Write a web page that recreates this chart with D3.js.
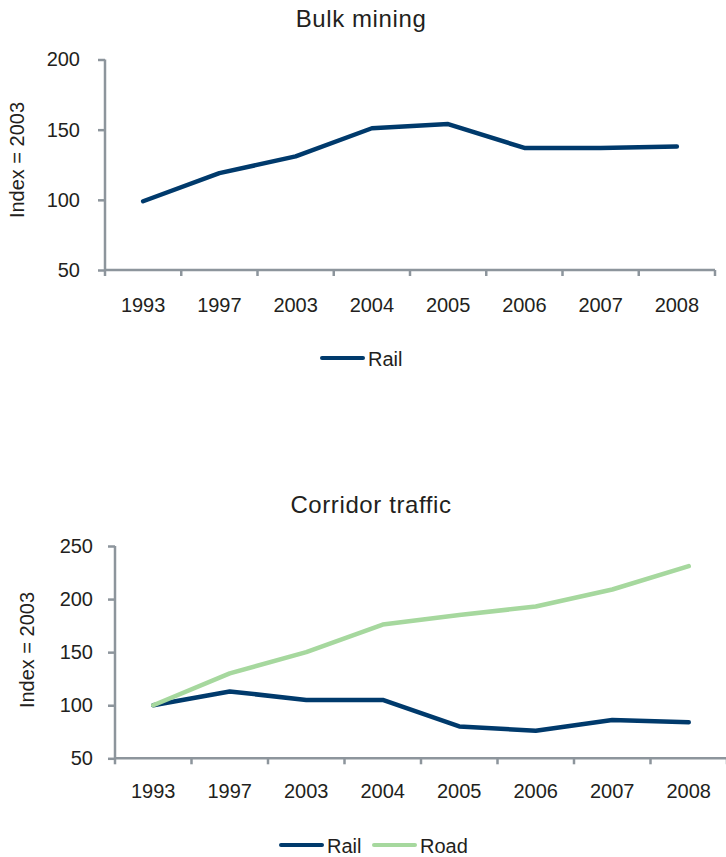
<!DOCTYPE html>
<html>
<head>
<meta charset="utf-8">
<script src="https://cdn.jsdelivr.net/npm/d3@7"></script>
<style>
  body { margin: 0; background: #fff; }
  text { fill: #231f20; }
</style>
</head>
<body>
<div id="chart"></div>
<script>
const years = ['1993', '1997', '2003', '2004', '2005', '2006', '2007', '2008'];

const bulkRail = [99, 119, 131, 151, 154, 137, 137, 138];
const corridorRail = [100, 113, 105, 105, 80, 76, 86, 84];
const corridorRoad = [100, 130, 150, 176, 185, 193, 209, 231];

const bulkTicks = [50, 100, 150, 200];
const corridorTicks = [50, 100, 150, 200, 250];

const railColor = '#003a6c';
const roadColor = '#a6d89e';
const axisColor = '#8d959c';
const fontFamily = 'Liberation Sans, Arial, sans-serif';

const svg = d3.select('#chart').append('svg')
    .attr('width', 726)
    .attr('height', 857);

function drawPanel(cfg) {
    const g = svg.append('g');

    const x = d3.scaleBand().domain(years).range([cfg.left, cfg.right]);
    const y = d3.scaleLinear().domain(cfg.domain).range([cfg.bottom, cfg.top]);

    // title
    g.append('text')
        .attr('x', cfg.titleX)
        .attr('y', cfg.titleY)
        .attr('text-anchor', 'middle')
        .style('font-family', fontFamily)
        .style('font-size', '24px')
        .style('letter-spacing', '0.6px')
        .text(cfg.title);

    // y axis
    const yAxis = g.append('g')
        .attr('transform', `translate(${cfg.left},0)`)
        .call(d3.axisLeft(y).tickValues(cfg.ticks).tickSize(7).tickPadding(cfg.yPad));
    // x axis (labels only, ticks drawn at band edges)
    const xAxis = g.append('g')
        .attr('transform', `translate(0,${cfg.bottom})`)
        .call(d3.axisBottom(x).tickSize(0));
    xAxis.selectAll('.tick text')
        .attr('y', cfg.xLabelY)
        .attr('dy', null);

    const bounds = years.map(d => x(d)).concat([cfg.right]);
    xAxis.selectAll('.bound')
        .data(bounds)
        .enter()
        .append('line')
        .attr('class', 'bound')
        .attr('x1', d => d)
        .attr('x2', d => d)
        .attr('y1', 0)
        .attr('y2', 6);

    [yAxis, xAxis].forEach(a => {
        a.select('.domain').remove();
        a.selectAll('line').attr('stroke', axisColor).attr('stroke-width', 2.5);
        a.selectAll('text')
            .style('font-family', fontFamily)
            .style('font-size', '20px')
            .attr('fill', '#231f20');
    });
    g.append('line')
        .attr('x1', cfg.left).attr('x2', cfg.left)
        .attr('y1', cfg.top).attr('y2', cfg.bottom)
        .attr('stroke', axisColor).attr('stroke-width', 2.5);
    g.append('line')
        .attr('x1', cfg.left).attr('x2', cfg.right)
        .attr('y1', cfg.bottom).attr('y2', cfg.bottom)
        .attr('stroke', axisColor).attr('stroke-width', 2.5);

    // axis label
    g.append('text')
        .attr('transform', `translate(${cfg.labelX},${cfg.labelY}) rotate(-90)`)
        .attr('text-anchor', 'middle')
        .style('font-family', fontFamily)
        .style('font-size', '20px')
        .text('Index = 2003');

    const line = d3.line()
        .x((d, i) => x(years[i]) + x.bandwidth() / 2)
        .y(d => y(d));

    cfg.series.forEach(s => {
        g.append('path')
            .datum(s.values)
            .attr('d', line)
            .attr('fill', 'none')
            .attr('stroke', s.color)
            .attr('stroke-width', 4.5)
            .attr('stroke-linejoin', 'round')
            .attr('stroke-linecap', 'round');
    });

    // legend
    const leg = g.selectAll('.legend')
        .data(cfg.series)
        .enter()
        .append('g')
        .attr('transform', (d, i) => `translate(${cfg.legendX[i]},${cfg.legendY})`);
    leg.append('line')
        .attr('x1', 0).attr('x2', 41)
        .attr('stroke', d => d.color)
        .attr('stroke-width', 4)
        .attr('stroke-linecap', 'round');
    leg.append('text')
        .attr('x', 46)
        .attr('y', 7.5)
        .style('font-family', fontFamily)
        .style('font-size', '20px')
        .text(d => d.name);
}

drawPanel({
    title: 'Bulk mining', titleX: 361, titleY: 27,
    left: 105, right: 715, top: 59.5, bottom: 270,
    domain: [50, 200], ticks: bulkTicks, yPad: 18,
    xLabelY: 41.5, labelX: 24, labelY: 160,
    series: [{ name: 'Rail', values: bulkRail, color: railColor }],
    legendX: [322], legendY: 358
});

drawPanel({
    title: 'Corridor traffic', titleX: 371, titleY: 513,
    left: 115, right: 727, top: 546, bottom: 758.3,
    domain: [50, 250], ticks: corridorTicks, yPad: 15,
    xLabelY: 39.5, labelX: 34, labelY: 650,
    series: [
        { name: 'Rail', values: corridorRail, color: railColor },
        { name: 'Road', values: corridorRoad, color: roadColor }
    ],
    legendX: [281, 374], legendY: 845
});
</script>
</body>
</html>
